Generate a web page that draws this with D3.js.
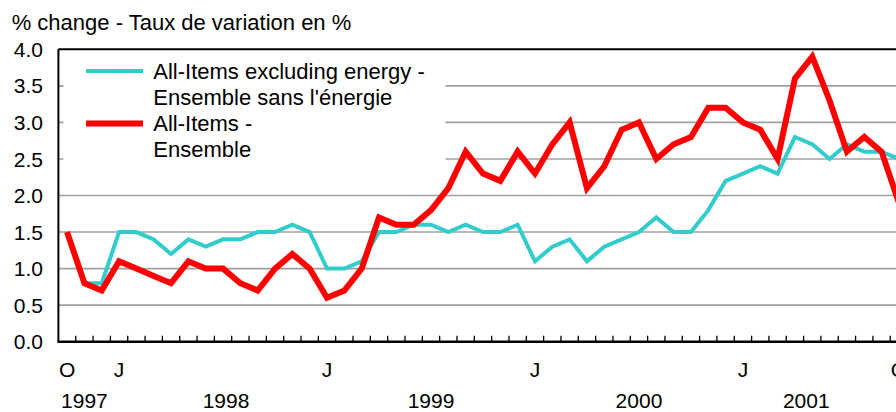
<!DOCTYPE html>
<html>
<head>
<meta charset="utf-8">
<script src="https://cdn.jsdelivr.net/npm/d3@7"></script>
<style>
  html, body { margin: 0; padding: 0; background: #fff; overflow: hidden; }
  svg { display: block; }
  text { font-family: "Liberation Sans", Arial, sans-serif; fill: #000; }
</style>
</head>
<body>
<svg id="chart" width="896" height="412"></svg>
<script>
// ---- data ----
const months = [
  "1997-10","1997-11","1997-12",
  "1998-01","1998-02","1998-03","1998-04","1998-05","1998-06","1998-07","1998-08","1998-09","1998-10","1998-11","1998-12",
  "1999-01","1999-02","1999-03","1999-04","1999-05","1999-06","1999-07","1999-08","1999-09","1999-10","1999-11","1999-12",
  "2000-01","2000-02","2000-03","2000-04","2000-05","2000-06","2000-07","2000-08","2000-09","2000-10","2000-11","2000-12",
  "2001-01","2001-02","2001-03","2001-04","2001-05","2001-06","2001-07","2001-08","2001-09","2001-10"
];
const allItems = [
  1.5,0.8,0.7,
  1.1,1.0,0.9,0.8,1.1,1.0,1.0,0.8,0.7,1.0,1.2,1.0,
  0.6,0.7,1.0,1.7,1.6,1.6,1.8,2.1,2.6,2.3,2.2,2.6,
  2.3,2.7,3.0,2.1,2.4,2.9,3.0,2.5,2.7,2.8,3.2,3.2,
  3.0,2.9,2.5,3.6,3.9,3.3,2.6,2.8,2.6,1.9
];
const exEnergy = [
  1.5,0.8,0.8,
  1.5,1.5,1.4,1.2,1.4,1.3,1.4,1.4,1.5,1.5,1.6,1.5,
  1.0,1.0,1.1,1.5,1.5,1.6,1.6,1.5,1.6,1.5,1.5,1.6,
  1.1,1.3,1.4,1.1,1.3,1.4,1.5,1.7,1.5,1.5,1.8,2.2,
  2.3,2.4,2.3,2.8,2.7,2.5,2.7,2.6,2.6,2.5
];
const monthTickLabels = [
  {month:"1997-10", label:"O"},
  {month:"1998-01", label:"J"},
  {month:"1999-01", label:"J"},
  {month:"2000-01", label:"J"},
  {month:"2001-01", label:"J"},
  {month:"2001-10", label:"O"}
];
const yearLabels = [
  {month:"1997-11", label:"1997"},
  {month:"1998-07", label:"1998"},
  {month:"1999-07", label:"1999"},
  {month:"2000-07", label:"2000"},
  {month:"2001-05", label:"2001"}
];
const yTicks = [0,0.5,1,1.5,2,2.5,3,3.5,4];
const title = "% change - Taux de variation en %";
const legendItems = [
  {lines:["All-Items excluding energy -","Ensemble sans l'énergie"], color:"#33CCCC", width:4},
  {lines:["All-Items -","Ensemble"], color:"#FF0000", width:6}
];

// ---- layout ----
const svg = d3.select("#chart");
const plotLeft = 58.4, step = 17.33;
const plotTop = 49.3, plotBottom = 341.7;
const fs = 21, fsBig = 22;

const x = d3.scaleBand().domain(months).range([plotLeft, plotLeft + months.length * step]).padding(0);
const y = d3.scaleLinear().domain([0, 4]).range([plotBottom, plotTop]);
const cx = m => x(m) + x.bandwidth() / 2;

// gridlines
svg.append("g").selectAll("line").data(yTicks.filter(d => d > 0 && d < 4)).join("line")
  .attr("x1", plotLeft).attr("x2", 910)
  .attr("y1", d => y(d)).attr("y2", d => y(d))
  .attr("stroke", "#a0a0a0").attr("stroke-width", 1.6);

// legend background
svg.append("rect").attr("x", 63.5).attr("y", plotTop + 1).attr("width", 382).attr("height", 130).attr("fill", "#fff");

// y axis labels
svg.append("g").selectAll("text").data(yTicks).join("text")
  .attr("x", 43).attr("y", d => y(d)).attr("dy", "0.36em")
  .attr("text-anchor", "end").attr("font-size", fs)
  .text(d => d3.format(".1f")(d));

// frame: top, left
svg.append("line").attr("x1", plotLeft).attr("x2", 910).attr("y1", plotTop).attr("y2", plotTop).attr("stroke", "#000").attr("stroke-width", 2);
svg.append("line").attr("x1", plotLeft).attr("x2", plotLeft).attr("y1", plotTop).attr("y2", plotBottom).attr("stroke", "#000").attr("stroke-width", 2);

// x ticks at band boundaries
svg.append("g").selectAll("line").data(months.slice(1)).join("line")
  .attr("x1", d => x(d)).attr("x2", d => x(d))
  .attr("y1", plotBottom).attr("y2", plotBottom - 6)
  .attr("stroke", "#000").attr("stroke-width", 1.3);
svg.append("line").attr("x1", plotLeft - 1).attr("x2", 910).attr("y1", plotBottom).attr("y2", plotBottom).attr("stroke", "#000").attr("stroke-width", 2.5);

// month labels
svg.append("g").selectAll("text").data(monthTickLabels).join("text")
  .attr("x", d => cx(d.month)).attr("y", 377)
  .attr("text-anchor", "middle").attr("font-size", fs)
  .text(d => d.label);

// year labels
svg.append("g").selectAll("text").data(yearLabels).join("text")
  .attr("x", d => cx(d.month) + (d.label === "1998" ? 3 : d.label === "2001" ? -6 : 0)).attr("y", 408)
  .attr("text-anchor", "middle").attr("font-size", fs)
  .text(d => d.label);

// title
svg.append("text").attr("x", 11.7).attr("y", 29.5).attr("font-size", fsBig).text(title);

// lines
const line = d3.line().x((d, i) => cx(months[i])).y(d => y(d));
svg.append("path").datum(exEnergy).attr("d", line)
  .attr("fill", "none").attr("stroke", "#33CCCC").attr("stroke-width", 4).attr("stroke-linejoin", "miter");
svg.append("path").datum(allItems).attr("d", line)
  .attr("fill", "none").attr("stroke", "#FF0000").attr("stroke-width", 6).attr("stroke-linejoin", "miter");

// legend
const lg = svg.append("g");
legendItems.forEach((it, i) => {
  const yy = 71 + i * 52.5;
  lg.append("line").attr("x1", 86).attr("x2", 143).attr("y1", yy).attr("y2", yy)
    .attr("stroke", it.color).attr("stroke-width", it.width);
  it.lines.forEach((t, j) => {
    lg.append("text").attr("x", 153.3).attr("y", yy + 7.5 + j * 26.2)
      .attr("font-size", fsBig).text(t);
  });
});
</script>
</body>
</html>
